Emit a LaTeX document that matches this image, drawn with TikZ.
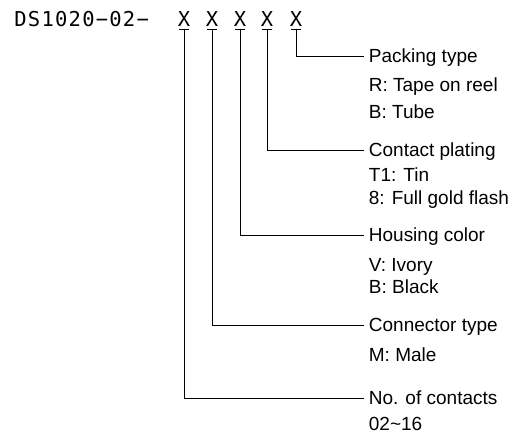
\documentclass[tikz,border=0pt]{standalone}
\usepackage{fontspec}
\setmainfont{Liberation Sans}
\newfontfamily\partfont{DejaVu Sans Mono}[LetterSpace=6]
\usetikzlibrary{positioning}

\begin{document}
\begin{tikzpicture}[x=1pt, y=-1pt, line width=0.8pt,
      code/.style={font=\partfont\fontsize{20.5}{22}\selectfont, inner sep=0pt, anchor=base west},
      digit/.style={font=\partfont\fontsize{20.5}{22}\selectfont, inner xsep=0pt, inner ysep=2pt, anchor=base},
      field/.style={font=\fontsize{19}{21}\selectfont, anchor=west, inner xsep=4.5pt,
                    text height=14pt, text depth=0pt}]
      \useasboundingbox (0,0) rectangle (517,438);
      \node[code] (pn) at (14,27) {DS1020−02−};
      \node[digit] (n1) at (184,27) {X};
      \node[digit] (n2) at (212,27) {X};
      \node[digit] (n3) at (240,27) {X};
      \node[digit] (n4) at (267,27) {X};
      \node[digit] (n5) at (296,27) {X};
      \draw ([xshift=-5pt]n1.south) -- ([xshift=5pt]n1.south);
      \draw ([xshift=-5pt]n2.south) -- ([xshift=5pt]n2.south);
      \draw ([xshift=-5pt]n3.south) -- ([xshift=5pt]n3.south);
      \draw ([xshift=-5pt]n4.south) -- ([xshift=5pt]n4.south);
      \draw ([xshift=-5pt]n5.south) -- ([xshift=5pt]n5.south);
      % packing
      \node[field] (pack) at (364,56) {Packing type};
      \node[field] (reel) at (364,85) {R: Tape on reel};
      \node[field] (tube) at (364,112) {B: Tube};
      % plating
      \node[field] (plate) at (364,150) {Contact plating};
      \node[field] (tin) at (364,175) {T1: Tin};
      \node[field] (gold) at (364,198) {8: Full gold flash};
      % housing
      \node[field] (color) at (364,235) {Housing color};
      \node[field] (ivory) at (364,265) {V: Ivory};
      \node[field] (black) at (364,287) {B: Black};
      % connector
      \node[field] (ctype) at (364,325) {Connector type};
      \node[field] (male) at (364,355) {M: Male};
      % contacts
      \node[field] (count) at (364,398) {No. of contacts};
      \node[field] (range) at (364,423) {02\textasciitilde16};
      \draw (n5.south) |- (pack.west);
      \draw (n4.south) |- (plate.west);
      \draw (n3.south) |- (color.west);
      \draw (n2.south) |- (ctype.west);
      \draw (n1.south) |- (count.west);
    \end{tikzpicture}
\end{document}
